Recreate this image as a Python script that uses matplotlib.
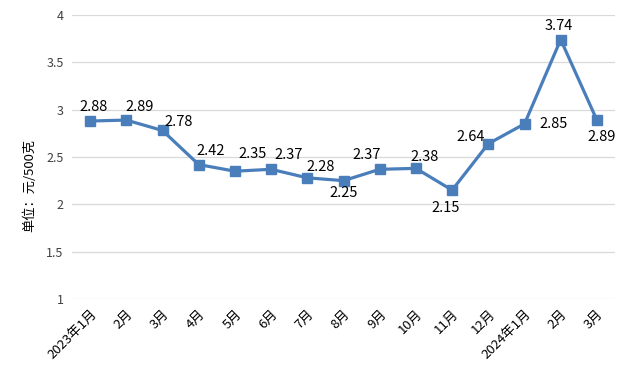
import matplotlib.pyplot as plt

plt.rcParams['font.family'] = ['Noto Sans CJK SC', 'DejaVu Sans']

# 月份与价格（元/500克）
months = ['2023年1月', '2月', '3月', '4月', '5月', '6月', '7月', '8月', '9月',
          '10月', '11月', '12月', '2024年1月', '2月', '3月']
prices = [2.88, 2.89, 2.78, 2.42, 2.35, 2.37, 2.28, 2.25, 2.37,
          2.38, 2.15, 2.64, 2.85, 3.74, 2.89]

# 数据标签偏移（像素）
label_offsets = [(3, 14), (13, 13), (16, 8), (12, 14), (18, 17), (18, 14),
                 (13, 11), (0, -12), (-13, 14), (9, 11), (-6, -18), (-18, 7),
                 (29, 0), (-2, 14), (5, -17)]

color = '#4a7ebb'

fig = plt.figure(figsize=(6.31, 3.79), dpi=100)
ax = fig.add_axes([72 / 631, 1 - 299 / 379, 543 / 631, 284 / 379])

x = list(range(len(months)))
ax.plot(x, prices, color=color, linewidth=2.3, marker='s', markersize=6.5,
        markerfacecolor=color, markeredgecolor=color)

for xi, v, (dx, dy) in zip(x, prices, label_offsets):
    ax.annotate(f'{v:.2f}', (xi, v), xytext=(dx, dy), textcoords='offset pixels',
                ha='center', va='center', fontsize=10.5, color='#000000')

ax.set_xlim(-0.5, len(months) - 0.5)
ax.set_ylim(1, 4)
ax.set_yticks([1, 1.5, 2, 2.5, 3, 3.5, 4])
ax.set_yticklabels(['1', '1.5', '2', '2.5', '3', '3.5', '4'], fontsize=9, color='#404040')
ax.set_xticks(x)
ax.set_xticklabels(months, rotation=45, ha='right', rotation_mode='anchor',
                   fontsize=9.5, color='#000000')
ax.tick_params(axis='both', length=0, pad=6)
ax.grid(axis='y', color='#d9d9d9', linewidth=0.9)
ax.set_axisbelow(True)
for s in ax.spines.values():
    s.set_visible(False)

fig.text(30 / 631, 1 - 185 / 379, '单位：元/500克', rotation=90, ha='center',
         va='center', fontsize=9.5, color='#000000')

fig.savefig('out.png', dpi=100)
